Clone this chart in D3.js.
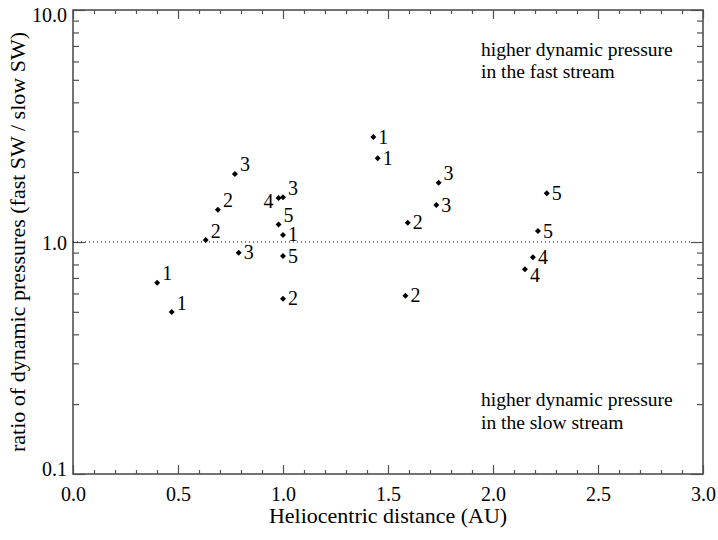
<!DOCTYPE html>
<html>
<head>
<meta charset="utf-8">
<script src="https://cdn.jsdelivr.net/npm/d3@7"></script>
</head>
<body style="margin:0">
<div id="main"></div>
<script>
/* Size */
const width = 718, height = 540;
const margin = {left: 73, right: 15, top: 10, bottom: 66};

/* Data: heliocentric distance (AU), pressure ratio, label, where the label sits */
const distance = [0.401, 0.470, 0.632, 0.690, 0.771, 0.789, 0.979, 1.000, 0.979, 1.000, 1.000, 1.000,
                  1.430, 1.451, 1.741, 1.730, 1.594, 1.583, 2.256, 2.214, 2.190, 2.152];
const ratio    = [0.668, 0.499, 1.020, 1.378, 1.964, 0.899, 1.548, 1.558, 1.190, 1.072, 0.870, 0.570,
                  2.835, 2.294, 1.800, 1.443, 1.211, 0.587, 1.622, 1.115, 0.859, 0.763];
const labels   = ["1","1","2","2","3","3","4","3","5","1","5","2",
                  "1","1","3","3","2","2","5","5","4","4"];
const labelSide = ["ne","ne","ne","ne","ne","e","w","ne","ne","e","e","e",
                   "e","e","ne","e","e","e","e","e","e","se"];

const xMajor = [0, 0.5, 1, 1.5, 2, 2.5, 3];
const xMinor = d3.range(0, 31).map(d => d / 10).filter(d => Math.round(d * 10) % 5 !== 0);
const yMajor = [0.1, 1, 10];
const yMinor = [0.2,0.3,0.4,0.5,0.6,0.7,0.8,0.9,2,3,4,5,6,7,8,9];

const notesTop = ["higher dynamic pressure", "in the fast stream"];
const notesBottom = ["higher dynamic pressure", "in the slow stream"];

/* Scales */
const x = d3.scaleLinear().domain([0, 3]).range([margin.left, width - margin.right]);
const y = d3.scaleLog().domain([0.1, 10]).range([height - margin.bottom, margin.top]);

const svg = d3.select("#main").append("svg").attr("width", width).attr("height", height);

const axisColor = "#505050";

// serif text helper
function serif(sel, size) {
  return sel.attr("font-family", "Liberation Serif").attr("font-size", size)
    .style("font-family", "'Liberation Serif'").style("font-size", size + "px");
}

function styleAxis(g) {
  g.attr("font-family", "Liberation Serif").attr("font-size", 20);
  g.select(".domain").remove();
  g.selectAll(".tick line").attr("stroke", axisColor).attr("stroke-width", 1.2);
  g.selectAll(".tick text").attr("fill", "#000").call(serif, 20);
}

/* bottom axis */
svg.append("g").attr("transform", `translate(0,${y(0.1)})`)
  .call(d3.axisBottom(x).tickValues(xMajor).tickSize(-9).tickPadding(13).tickFormat(d3.format(".1f")))
  .call(styleAxis);
svg.append("g").attr("transform", `translate(0,${y(0.1)})`)
  .call(d3.axisBottom(x).tickValues(xMinor).tickSize(-4).tickFormat(""))
  .call(styleAxis);
/* top axis */
svg.append("g").attr("transform", `translate(0,${y(10)})`)
  .call(d3.axisTop(x).tickValues(xMajor).tickSize(-9).tickFormat(""))
  .call(styleAxis);
svg.append("g").attr("transform", `translate(0,${y(10)})`)
  .call(d3.axisTop(x).tickValues(xMinor).tickSize(-4).tickFormat(""))
  .call(styleAxis);
/* left axis */
const yLeft = svg.append("g").attr("transform", `translate(${x(0)},0)`)
  .call(d3.axisLeft(y).tickValues(yMajor).tickSize(-12).tickPadding(6).tickFormat(d3.format(".1f")))
  .call(styleAxis);
yLeft.selectAll(".tick text").attr("dy", d => d === 10 ? "0.55em" : d === 0.1 ? "0.05em" : "0.35em");
svg.append("g").attr("transform", `translate(${x(0)},0)`)
  .call(d3.axisLeft(y).tickValues(yMinor).tickSize(-6).tickFormat(""))
  .call(styleAxis);
/* right axis */
svg.append("g").attr("transform", `translate(${x(3)},0)`)
  .call(d3.axisRight(y).tickValues(yMajor).tickSize(-12).tickFormat(""))
  .call(styleAxis);
svg.append("g").attr("transform", `translate(${x(3)},0)`)
  .call(d3.axisRight(y).tickValues(yMinor).tickSize(-6).tickFormat(""))
  .call(styleAxis);

/* frame */
svg.append("rect")
  .attr("x", x(0)).attr("y", y(10))
  .attr("width", x(3) - x(0)).attr("height", y(0.1) - y(10))
  .attr("fill", "none").attr("stroke", axisColor).attr("stroke-width", 1.6);

/* reference line at ratio 1 */
svg.append("line")
  .attr("x1", x(0)).attr("x2", x(3) - 12)
  .attr("y1", y(1)).attr("y2", y(1))
  .attr("stroke", "#000").attr("stroke-width", 1).attr("stroke-dasharray", "1,3");

/* points */
const points = distance.map((d, i) => ({x: d, y: ratio[i], label: labels[i], side: labelSide[i]}));
const diamond = d3.symbol().type(d3.symbolSquare).size(18);

const pg = svg.append("g").selectAll("g").data(points).enter().append("g")
  .attr("transform", d => `translate(${x(d.x)},${y(d.y)})`);

pg.append("path").attr("d", diamond).attr("transform", "rotate(45)").attr("fill", "#000");

pg.append("text")
  .text(d => d.label)
  .call(serif, 20)
  .attr("text-anchor", d => d.side === "w" ? "end" : "start")
  .attr("x", d => d.side === "w" ? -5 : 5)
  .attr("y", d => ({ne: -2.5, e: 6.5, se: 12.5, w: 10.5})[d.side]);

/* notes */
svg.selectAll(".noteTop").data(notesTop).enter().append("text")
  .attr("x", x(2) - 12).attr("y", (d, i) => y(10) + 45.5 + i * 22.5)
  .call(serif, 19.5).text(d => d);
svg.selectAll(".noteBottom").data(notesBottom).enter().append("text")
  .attr("x", x(2) - 12).attr("y", (d, i) => y(0.1) - 68 + i * 22.5)
  .call(serif, 19.5).text(d => d);

/* axis titles */
svg.append("text")
  .attr("x", (x(0) + x(3)) / 2).attr("y", 523)
  .attr("text-anchor", "middle")
  .call(serif, 22)
  .text("Heliocentric distance (AU)");
svg.append("text")
  .attr("transform", `translate(25,${y(1)}) rotate(-90)`)
  .attr("text-anchor", "middle")
  .call(serif, 22)
  .text("ratio of dynamic pressures (fast SW / slow SW)");
</script>
</body>
</html>
